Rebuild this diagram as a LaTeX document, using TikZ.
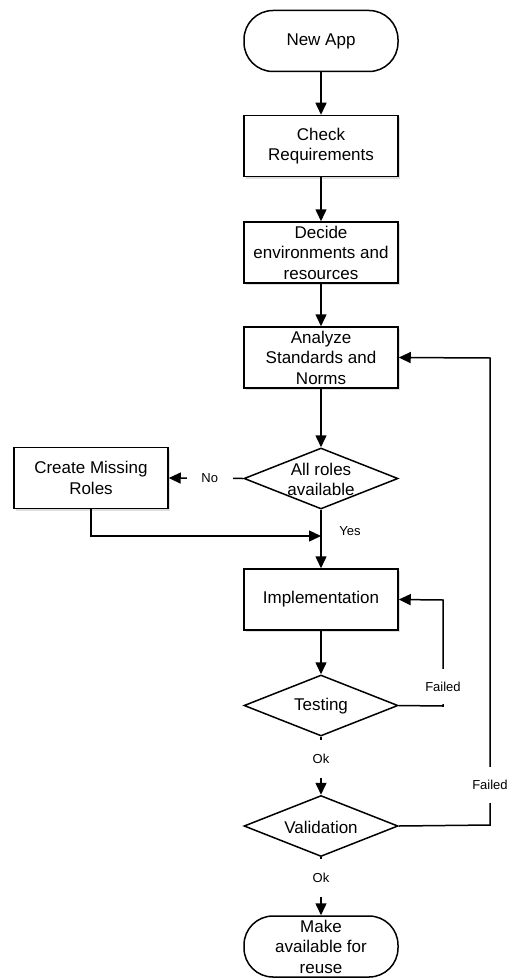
\documentclass[tikz,border=0pt]{standalone}
\usepackage{fontspec}
\setmainfont{Liberation Sans}
\usetikzlibrary{arrows.meta,shapes.geometric,shadows}

\begin{document}
\begin{tikzpicture}[x=1pt,y=-1pt,
  every node/.style={font=\fontsize{17}{20.5}\selectfont, align=center},
  base/.style={draw, line width=1.5pt, minimum width=154pt, minimum height=61pt, inner sep=0pt},
  proc/.style={base, rectangle, fill=white,
    drop shadow={opacity=0.25, shadow xshift=2pt, shadow yshift=-2pt}},
  term/.style={base, rectangle, rounded corners=29pt},
  dec/.style={base, diamond},
  lbl/.style={font=\fontsize{13}{15}\selectfont, inner sep=1pt},
  gap/.style={lbl, fill=white},
  wire/.style={line width=1.5pt},
  link/.style={wire, -{Triangle[length=12pt,width=11pt]}}]

\useasboundingbox (0,0) rectangle (509,979);

% main column
\node[term] (newapp)   at (321,41)    {New App};
\node[proc] (check)    at (321,146)   {Check\\Requirements};
\node[proc] (decide)   at (321,252.5) {Decide\\environments and\\resources};
\node[proc] (analyze)  at (321,357.5) {Analyze\\Standards and\\Norms};
\node[dec]  (roles)    at (321,478.5) {};
\node       (rolestxt) at (321,479.5) {All roles\\available};
\node[proc] (create)   at (91,478)    {Create Missing\\Roles};
\node[proc] (impl)     at (321,599.5) {Implementation};
\node[dec]  (testing)  at (321,705.5) {};
\node       (testtxt)  at (321,706)   {Testing};
\node[dec]  (valid)    at (321,826)   {};
\node       (validtxt) at (321,827)   {Validation};
\node[term] (make)     at (321,946.5) {Make\\available for\\reuse};

% helper points for the loops
\coordinate (merge) at (321,536);
\coordinate (tcorner) at (443,706);
\coordinate (ttop) at (443,600);
\coordinate (vcorner) at (490,825);
\coordinate (vtop) at (490,358);

% straight flow
\draw[link] (newapp) -- (check);
\draw[link] (check) -- (decide);
\draw[link] (decide) -- (analyze);
\draw[link] (analyze) -- (roles.north);
\draw[link] (roles.south) -- (impl);
\node[lbl] (yes) at (350,531) {Yes};
\draw[link] (impl) -- (testing.north);
\draw[link] (testing.south) -- node[gap, minimum height=38pt, pos=0.38] (ok1) {Ok} (valid.north);
\draw[link] (valid.south) -- node[gap, minimum height=38pt, pos=0.36] (ok2) {Ok} (make.north);

% missing roles branch
\draw[link] (roles.west) -- node[gap, minimum width=46pt, pos=0.45] (no) {No} (create.east);
\draw[link] (create.south) |- (merge);

% failure loops
\draw[link] (testing.east) -- (tcorner)
  -- node[gap, minimum height=35pt, pos=0.18] (fail1) {Failed} (ttop) -- (impl.east);
\draw[link] (valid.east) -- (vcorner)
  -- node[gap, minimum height=36pt, pos=0.086] (fail2) {Failed} (vtop) -- (analyze.east);
\end{tikzpicture}
\end{document}
